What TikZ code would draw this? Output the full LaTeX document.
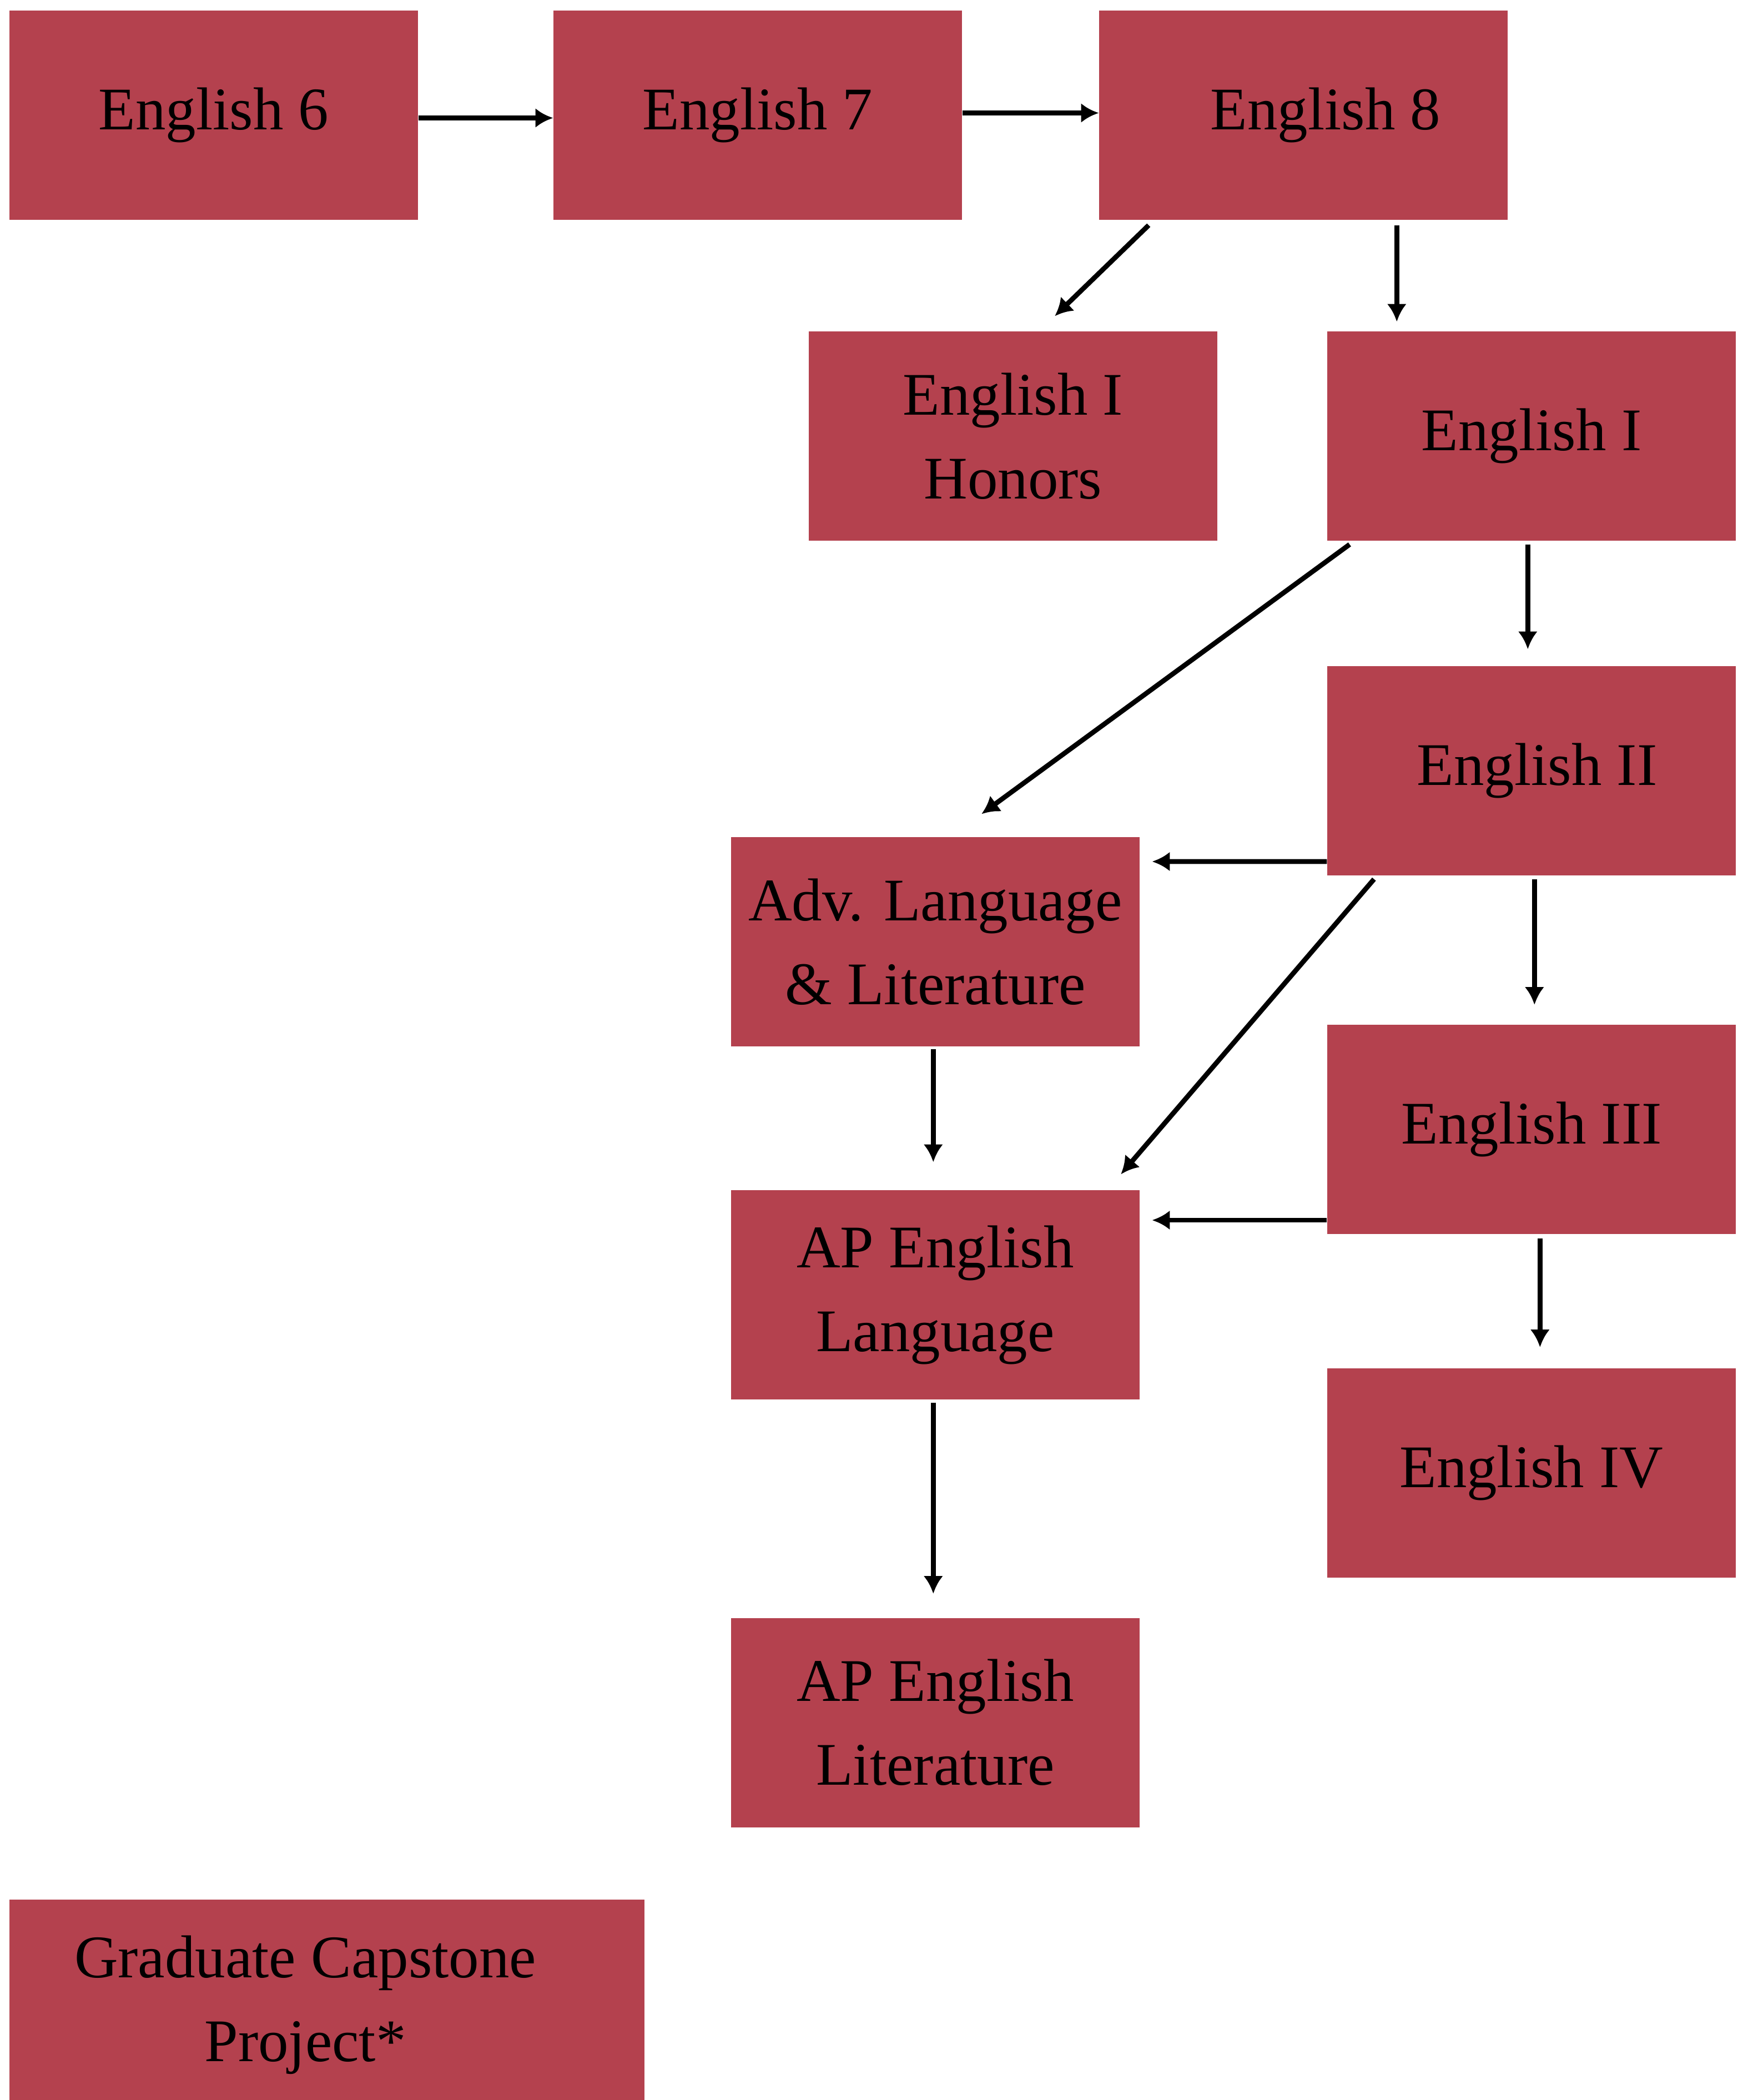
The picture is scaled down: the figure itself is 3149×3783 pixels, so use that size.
\documentclass[tikz,border=0pt]{standalone}
\usepackage{fontspec}
\setmainfont{Liberation Serif}
\usetikzlibrary{calc,arrows.meta}
\definecolor{boxred}{RGB}{180,65,78}
\tikzset{
  course/.style={fill=boxred, draw=none, minimum width=73.6mm, minimum height=37.7mm,
    inner sep=0pt, align=center, font=\fontsize{31}{43}\selectfont, text=black},
  arr/.style={line width=2.5pt, -{Latex[length=9pt,width=10pt]}}
}
\begin{document}
\begin{tikzpicture}[x=0.1mm,y=-0.1mm]
\useasboundingbox (0,0) rectangle (3149,3783);
\node[course] (e6) at (385,207.5) {English 6};
\node[course] (e7) at (1365,207.5) {\raisebox{-1.8mm}{English 7}};
\node[course] (e8) at (2348,207.5) {\hspace*{8mm}English 8};
\node[course] (eih) at (1825,785.5) {English I\\Honors};
\node[course] (ei) at (2759,785.5) {\raisebox{-1.2mm}{English I}};
\node[course] (eii) at (2759,1388.5) {\hspace*{2mm}English II};
\node[course] (adv) at (1685,1696.5) {Adv. Language\\\& Literature};
\node[course] (eiii) at (2759,2034) {\raisebox{-0.8mm}{English III}};
\node[course] (apl) at (1685,2332.5) {AP English\\Language};
\node[course] (eiv) at (2759,2653) {\raisebox{-1mm}{English IV}};
\node[course] (aplit) at (1685,3103) {AP English\\Literature};
\node[course, minimum width=114.4mm, minimum height=38mm] (cap) at (589,3612) {Graduate Capstone\hspace*{7.8mm}\\Project*\hspace*{7.8mm}};

\draw[arr] ($(e6.east)+(0,5)$) -- ($(e7.west)+(0,5)$);
\draw[arr] ($(e7.east)+(0,-4)$) -- ($(e8.west)+(0,-4)$);
\draw[arr] ($(e8.south west)+(90,9)$) -- ($(eih.north west)+(444,-27)$);
\draw[arr] ($(e8.south west)+(537,9)$) -- ($(ei.north west)+(126,-17)$);
\draw[arr] ($(ei.south west)+(41,6)$) -- ($(adv.north west)+(452,-41)$);
\draw[arr] ($(ei.south west)+(362,6)$) -- ($(eii.north west)+(362,-30)$);
\draw[arr] ($(eii.west)+(0,163.5)$) -- ($(adv.east)+(22,-144.5)$);
\draw[arr] ($(eii.south west)+(85,6)$) -- ($(apl.north west)+(703,-28)$);
\draw[arr] ($(eii.south west)+(374,6)$) -- ($(eiii.north west)+(374,-35)$);
\draw[arr] ($(adv.south west)+(365,4)$) -- ($(apl.north west)+(365,-50)$);
\draw[arr] ($(eiii.west)+(0,164)$) -- ($(apl.east)+(22,-134.5)$);
\draw[arr] ($(eiii.south west)+(384,8)$) -- ($(eiv.north west)+(384,-37)$);
\draw[arr] ($(apl.south west)+(365,5)$) -- ($(aplit.north west)+(365,-43)$);
\end{tikzpicture}
\end{document}
